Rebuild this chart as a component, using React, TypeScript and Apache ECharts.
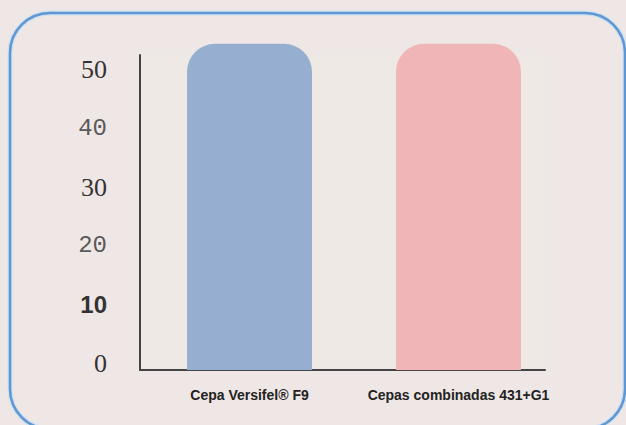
import React, { useEffect, useRef } from "react";
import * as echarts from "echarts";

const categories = ["Cepa Versifel® F9", "Cepas combinadas 431+G1"];
const values = [55.5, 55.5];
const barColors = ["#96afd1", "#f0b5b6"];
const yTickLabels = ["0", "10", "20", "30", "40", "50"];
const yTickStyles = ["s", "b", "m", "s", "m", "s"];

export default function App() {
  const ref = useRef<HTMLDivElement>(null);
  useEffect(() => {
    if (!ref.current) return;
    const chart = echarts.init(ref.current, null, { renderer: "svg" });
    chart.setOption({
      animation: false,
      backgroundColor: "#efe7e5",
      graphic: [
        {
          type: "rect",
          shape: { x: 10, y: 13, width: 615, height: 416, r: 40 },
          style: { fill: "none", stroke: "#cfe0f2", lineWidth: 5 },
          z: -1,
        },
        {
          type: "rect",
          shape: { x: 10, y: 13, width: 615, height: 416, r: 40 },
          style: { fill: "none", stroke: "#5f97d2", lineWidth: 2.5 },
          z: 0,
        },
      ],
      grid: {
        left: 140,
        top: 55,
        width: 405,
        bottom: 55,
        show: true,
        backgroundColor: "#eee9e5",
        borderWidth: 0,
      },
      xAxis: {
        type: "value",
        min: -0.524,
        max: 1.414,
        splitLine: { show: false },
        axisTick: { show: false },
        axisLine: { show: true, onZero: false, lineStyle: { color: "#444", width: 2 } },
        axisLabel: {
          customValues: [0, 1],
          margin: 18,
          formatter: (v: number) => categories[Math.round(v)] ?? "",
          fontFamily: "Liberation Sans",
          fontWeight: "bold",
          fontSize: 14,
          color: "#222",
        },
      },
      yAxis: {
        type: "value",
        min: 0,
        max: 53.6,
        interval: 10,
        splitLine: { show: false },
        axisTick: { show: false },
        axisLine: { show: true, onZero: false, lineStyle: { color: "#444", width: 2 } },
        axisLabel: {
          margin: 33,
          padding: [0, 0, 13, 0],
          formatter: (v: number) => {
            const i = Math.round(v / 10);
            return `{${yTickStyles[i]}|${yTickLabels[i]}}`;
          },
          rich: {
            s: { fontFamily: "Liberation Serif", fontSize: 26, color: "#333" },
            m: { fontFamily: "Liberation Mono", fontSize: 24, color: "#5a5a5a" },
            b: { fontFamily: "Liberation Sans", fontWeight: "bold", fontSize: 24, color: "#333" },
          },
        },
      },
      series: [
        {
          type: "bar",
          clip: false,
          barWidth: 125,
          data: values.map((v, i) => ({
            value: [i, v],
            itemStyle: { color: barColors[i], borderRadius: [28, 28, 0, 0] },
          })),
        },
      ],
    });
    return () => chart.dispose();
  }, []);
  return (
    <div
      ref={ref}
      style={{ position: "fixed", left: 0, top: 0, width: 626, height: 425 }}
    />
  );
}
